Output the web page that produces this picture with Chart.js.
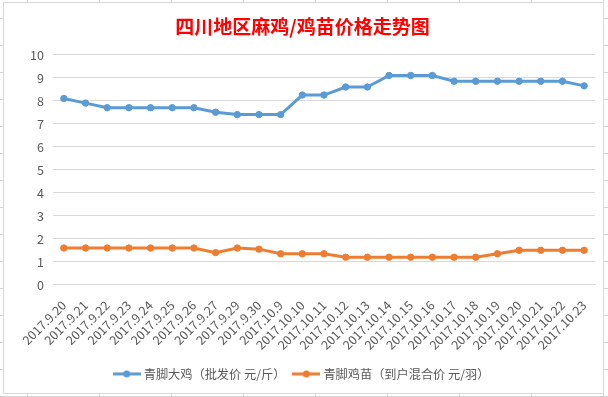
<!DOCTYPE html>
<html>
<head>
<meta charset="utf-8">
<script src="https://cdn.jsdelivr.net/npm/chart.js@4"></script>
<style>
    html, body {
        margin: 0;
        padding: 0;
        width: 608px;
        height: 397px;
        overflow: hidden;
        background-color: #fff;
        /* cellules du tableur autour du graphique */
        background-image:
            repeating-linear-gradient(to bottom, transparent 0, transparent 18px, #d4d4d4 18px, #d4d4d4 19px, transparent 19px, transparent 27px),
            repeating-linear-gradient(to right, transparent 0, transparent 27px, #d4d4d4 27px, #d4d4d4 28px, transparent 28px, transparent 72px);
        background-size: 608px 397px;
    }
    #chartBox {
        position: absolute;
        left: 3px;
        top: 2px;
        width: 599px;
        height: 390px;
        border: 1px solid #d9d9d9;
        background: #fff;
    }
    canvas { display: block; }
</style>
</head>
<body>
<div id="chartBox"><canvas id="priceChart" width="599" height="390"></canvas></div>
<script>
// Données
const dates = [
    '2017.9.20', '2017.9.21', '2017.9.22', '2017.9.23', '2017.9.24', '2017.9.25', '2017.9.26',
    '2017.9.27', '2017.9.29', '2017.9.30', '2017.10.9', '2017.10.10', '2017.10.11', '2017.10.12',
    '2017.10.13', '2017.10.14', '2017.10.15', '2017.10.16', '2017.10.17', '2017.10.18',
    '2017.10.19', '2017.10.20', '2017.10.21', '2017.10.22', '2017.10.23'
];

const grosPoulet = [
    8.1, 7.9, 7.7, 7.7, 7.7, 7.7, 7.7,
    7.5, 7.4, 7.4, 7.4, 8.25, 8.25, 8.6,
    8.6, 9.1, 9.1, 9.1, 8.85, 8.85,
    8.85, 8.85, 8.85, 8.85, 8.65
];

const poussin = [
    1.6, 1.6, 1.6, 1.6, 1.6, 1.6, 1.6,
    1.4, 1.6, 1.55, 1.35, 1.35, 1.35, 1.2,
    1.2, 1.2, 1.2, 1.2, 1.2, 1.2,
    1.35, 1.5, 1.5, 1.5, 1.5
];

const yTicks = [0, 1, 2, 3, 4, 5, 6, 7, 8, 9, 10];

const BLEU = '#5b9bd5';
const ORANGE = '#ed7d31';
const GRIS = '#595959';
const FONT = "'Noto Sans CJK SC', 'Noto Sans', sans-serif";

// Petit symbole de légende : trait + point (style Excel)
function makeLegendIcon(color) {
    const c = document.createElement('canvas');
    c.width = 28;
    c.height = 10;
    const g = c.getContext('2d');
    g.strokeStyle = color;
    g.lineWidth = 3;
    g.beginPath();
    g.moveTo(0, 5);
    g.lineTo(28, 5);
    g.stroke();
    g.fillStyle = color;
    g.beginPath();
    g.arc(14, 5, 3.5, 0, Math.PI * 2);
    g.fill();
    return c;
}

const icons = [makeLegendIcon(BLEU), makeLegendIcon(ORANGE)];

const ctx = document.getElementById('priceChart').getContext('2d');

new Chart(ctx, {
    type: 'line',
    data: {
        labels: dates,
        datasets: [
            {
                label: '青脚大鸡（批发价 元/斤）',
                data: grosPoulet,
                borderColor: BLEU,
                backgroundColor: BLEU,
                borderWidth: 3,
                pointRadius: 3.2,
                pointBorderWidth: 1,
                tension: 0
            },
            {
                label: '青脚鸡苗（到户混合价 元/羽）',
                data: poussin,
                borderColor: ORANGE,
                backgroundColor: ORANGE,
                borderWidth: 3,
                pointRadius: 3.2,
                pointBorderWidth: 1,
                tension: 0
            }
        ]
    },
    options: {
        responsive: false,
        animation: false,
        layout: {
            padding: { left: 6, right: 8, top: 0, bottom: 3 }
        },
        plugins: {
            title: {
                display: true,
                text: '四川地区麻鸡/鸡苗价格走势图',
                color: '#ff0000',
                font: { family: FONT, size: 19, weight: 'bold' },
                padding: { top: 12, bottom: 17 }
            },
            legend: {
                position: 'bottom',
                labels: {
                    color: GRIS,
                    font: { family: FONT, size: 12.2 },
                    usePointStyle: true,
                    pointStyleWidth: 22,
                    padding: 10,
                    generateLabels: function(chart) {
                        const items = Chart.defaults.plugins.legend.labels.generateLabels(chart);
                        items.forEach((item, i) => {
                            item.pointStyle = icons[i];
                        });
                        return items;
                    }
                }
            },
            tooltip: { enabled: false }
        },
        scales: {
            x: {
                offset: true,
                grid: { display: false, offset: true },
                border: { display: true, color: '#d9d9d9' },
                ticks: {
                    color: GRIS,
                    font: { family: FONT, size: 12.5 },
                    minRotation: 45,
                    maxRotation: 45,
                    autoSkip: false,
                    padding: 5
                },
                afterFit: function(scale) {
                    scale.height = 73;
                }
            },
            y: {
                min: 0,
                max: 10,
                grid: { color: '#d9d9d9', drawTicks: false },
                border: { display: false },
                afterBuildTicks: function(scale) {
                    scale.ticks = yTicks.map(v => ({ value: v }));
                },
                ticks: {
                    color: GRIS,
                    font: { family: FONT, size: 12.5 },
                    padding: 9
                },
                afterFit: function(scale) {
                    scale.width = 43;
                }
            }
        }
    }
});
</script>
</body>
</html>
